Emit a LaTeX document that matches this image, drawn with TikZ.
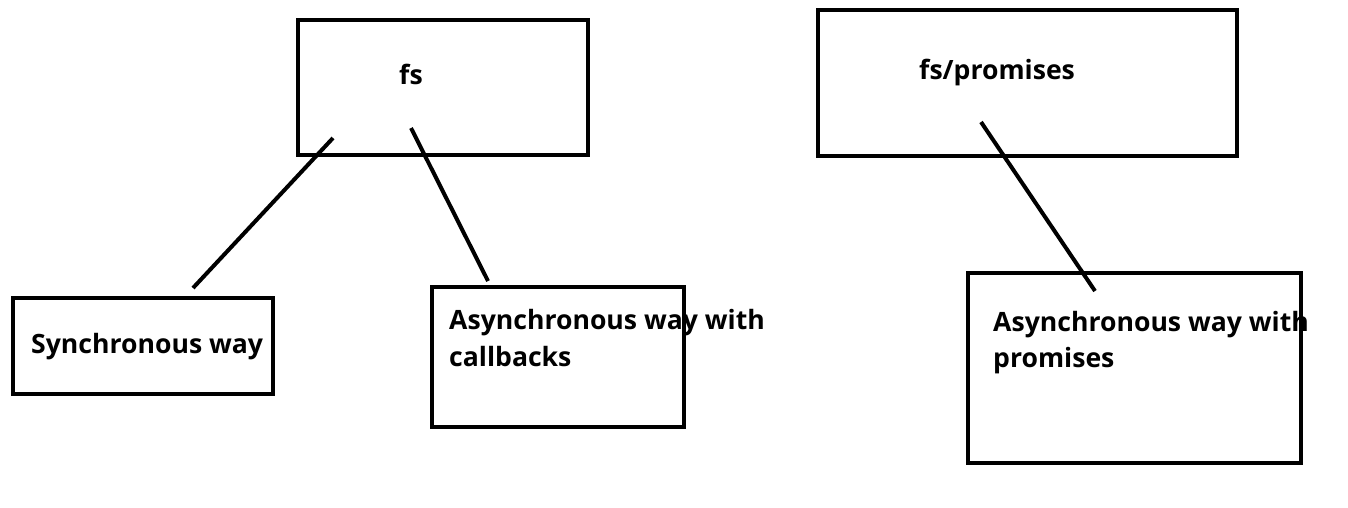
\documentclass[tikz,border=0pt]{standalone}
\usepackage{fontspec}
\setmainfont{Open Sans}[BoldFont={Open Sans Bold}]
\begin{document}
\begin{tikzpicture}[x=1pt,y=-1pt,
  box/.style={draw=black,line width=4pt,fill=none},
  conn/.style={draw=black,line width=4pt},
  lbl/.style={anchor=base west,inner sep=0pt,font=\fontsize{26.6}{32}\selectfont\bfseries}]
\useasboundingbox[fill=white] (0,0) rectangle (1348,508);
% boxes
\draw[box] (298,20) rectangle (588,155);
\draw[box] (818,10) rectangle (1237,156);
\draw[box] (13,298) rectangle (273,394);
\draw[box] (432,287) rectangle (684,427);
\draw[box] (968,273) rectangle (1301,463);
% labels
\node[lbl] (fs) at (399,85) {fs};
\node[lbl] (fsp) at (919,80) {fs/promises};
\node[lbl] (sync) at (31,353) {Synchronous way};
\node[lbl] (cb1) at (449,329) {Asynchronous way with};
\node[lbl] (cb2) at (449,366) {callbacks};
\node[lbl] (pr1) at (993,331) {Asynchronous way with};
\node[lbl] (pr2) at (993,367) {promises};
% connector end points
\coordinate (a1) at (333,138);
\coordinate (a2) at (193,288);
\coordinate (b1) at (411,128);
\coordinate (b2) at (488,281);
\coordinate (c1) at (981,122);
\coordinate (c2) at (1095,291);
\draw[conn] (a1) -- (a2);
\draw[conn] (b1) -- (b2);
\draw[conn] (c1) -- (c2);
\end{tikzpicture}
\end{document}
